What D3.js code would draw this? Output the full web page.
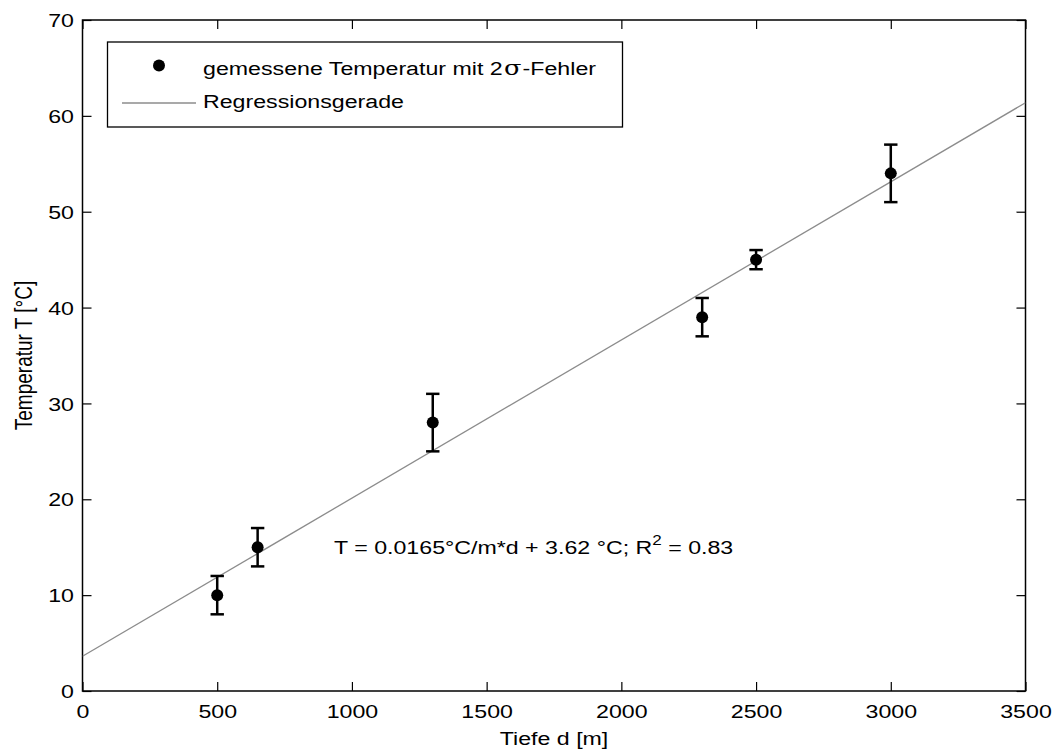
<!DOCTYPE html>
<html>
<head>
    <title>Temperatur vs Tiefe</title>
    <script src="https://d3js.org/d3.v7.min.js"></script>
    <style>
        body { margin: 0; background: #fff; }
        text { font-family: Arial, "Liberation Sans", sans-serif; }
    </style>
</head>
<body>
    <div id="chart"></div>

    <script>
        // measured data
        var depth = [500, 650, 1300, 2300, 2500, 3000];
        var temperature = [10, 15, 28, 39, 45, 54];
        var error2s = [2, 2, 3, 2, 1, 3];

        // regression line T = a*d + b
        var slope = 0.0165;
        var intercept = 3.62;

        var xTicks = [0, 500, 1000, 1500, 2000, 2500, 3000, 3500];
        var yTicks = [0, 10, 20, 30, 40, 50, 60, 70];

        var width = 1058, height = 754;
        var margin = { left: 82.5, top: 20, right: 1058 - 1025.5, bottom: 754 - 691 };
        var fs = 19;      // font size
        var sx = 1.22;    // the original export is stretched horizontally

        var svg = d3.select("#chart")
            .append("svg")
            .attr("width", width)
            .attr("height", height);

        var x = d3.scaleLinear().domain([0, 3500]).range([margin.left, width - margin.right]);
        var y = d3.scaleLinear().domain([0, 70]).range([height - margin.bottom, margin.top]);

        var tickLen = 9;
        var fmt = d3.format("d");

        // text placed at (px,py) with horizontal stretch
        function label(px, py, anchor) {
            return svg.append("text")
                .attr("transform", "translate(" + px + "," + py + ") scale(" + sx + ",1)")
                .attr("text-anchor", anchor || "start")
                .style("font-size", fs + "px")
                .attr("fill", "#000");
        }

        // axes, ticks inside
        var gx = svg.append("g")
            .attr("transform", "translate(0," + y(0) + ")")
            .call(d3.axisBottom(x).tickValues(xTicks).tickFormat(fmt).tickSizeInner(-tickLen).tickSizeOuter(0));
        gx.select(".domain").remove();
        gx.selectAll(".tick text")
            .attr("y", 0).attr("dy", null)
            .attr("transform", "translate(0,27) scale(" + sx + ",1)");

        var gt = svg.append("g")
            .attr("transform", "translate(0," + y(70) + ")")
            .call(d3.axisTop(x).tickValues(xTicks).tickSizeInner(-tickLen).tickSizeOuter(0).tickFormat(""));
        gt.select(".domain").remove();

        var gy = svg.append("g")
            .attr("transform", "translate(" + x(0) + ",0)")
            .call(d3.axisLeft(y).tickValues(yTicks).tickFormat(fmt).tickSizeInner(-tickLen).tickSizeOuter(0));
        gy.select(".domain").remove();
        gy.selectAll(".tick text")
            .attr("x", 0).attr("dy", "0.35em")
            .attr("transform", "translate(-8.5,0) scale(" + sx + ",1)");

        var gr = svg.append("g")
            .attr("transform", "translate(" + x(3500) + ",0)")
            .call(d3.axisRight(y).tickValues(yTicks).tickSizeInner(-tickLen).tickSizeOuter(0).tickFormat(""));
        gr.select(".domain").remove();

        svg.selectAll(".tick line").attr("stroke", "#000").attr("stroke-width", 1.2);
        svg.selectAll(".tick text").attr("fill", "#000")
            .style("font-size", fs + "px")
            .style("font-family", "Arial, 'Liberation Sans', sans-serif");

        // frame
        svg.append("rect")
            .attr("x", x(0)).attr("y", y(70))
            .attr("width", x(3500) - x(0)).attr("height", y(0) - y(70))
            .attr("fill", "none").attr("stroke", "#000").attr("stroke-width", 1.5);

        // clip for regression line
        svg.append("clipPath").attr("id", "clip")
            .append("rect")
            .attr("x", x(0)).attr("y", y(70))
            .attr("width", x(3500) - x(0)).attr("height", y(0) - y(70));

        var lineData = [0, 3500].map(function(d) { return [d, slope * d + intercept]; });
        svg.append("path")
            .attr("clip-path", "url(#clip)")
            .attr("d", d3.line().x(function(d) { return x(d[0]); }).y(function(d) { return y(d[1]); })(lineData))
            .attr("stroke", "#8c8c8c").attr("stroke-width", 1.3).attr("fill", "none");

        // error bars
        var cap = 6.7;
        var eb = svg.append("g").attr("stroke", "#000").attr("stroke-width", 2.5);
        depth.forEach(function(d, i) {
            var lo = y(temperature[i] - error2s[i]), hi = y(temperature[i] + error2s[i]), cx = x(d);
            eb.append("line").attr("x1", cx).attr("x2", cx).attr("y1", lo).attr("y2", hi);
            eb.append("line").attr("x1", cx - cap).attr("x2", cx + cap).attr("y1", lo).attr("y2", lo);
            eb.append("line").attr("x1", cx - cap).attr("x2", cx + cap).attr("y1", hi).attr("y2", hi);
        });

        svg.selectAll("circle.pt")
            .data(depth)
            .enter()
            .append("circle")
            .attr("class", "pt")
            .attr("cx", function(d) { return x(d); })
            .attr("cy", function(d, i) { return y(temperature[i]); })
            .attr("r", 6)
            .attr("fill", "#000");

        // legend
        svg.append("rect")
            .attr("x", 107.5).attr("y", 42).attr("width", 515).attr("height", 85)
            .attr("fill", "#fff").attr("stroke", "#000").attr("stroke-width", 1.3);
        svg.append("circle").attr("cx", 159).attr("cy", 65.5).attr("r", 6).attr("fill", "#000");
        svg.append("line").attr("x1", 122).attr("x2", 196).attr("y1", 103).attr("y2", 103)
            .attr("stroke", "#8c8c8c").attr("stroke-width", 1.3);
        var t1 = label(203, 75);
        t1.append("tspan").text("gemessene Temperatur mit 2");
        t1.append("tspan").attr("dx", 1).text("σ").style("font-family", "'DejaVu Serif', serif").style("font-size", "21px");
        t1.append("tspan").attr("dx", 1).text("-Fehler");
        label(203, 108).text("Regressionsgerade");

        // annotation
        var ann = label(334, 553.5);
        ann.append("tspan").text("T = 0.0165°C/m*d + 3.62 °C; R");
        ann.append("tspan").attr("dy", -9).style("font-size", "14px").text("2");
        ann.append("tspan").attr("dy", 9).text(" = 0.83");

        // axis labels
        label((x(0) + x(3500)) / 2, 745, "middle").text("Tiefe d [m]");

        svg.append("text")
            .attr("transform", "translate(31.5," + y(35) + ") rotate(-90) scale(1," + sx + ")")
            .attr("text-anchor", "middle")
            .style("font-size", fs + "px")
            .text("Temperatur T [°C]");
    </script>
</body>
</html>
